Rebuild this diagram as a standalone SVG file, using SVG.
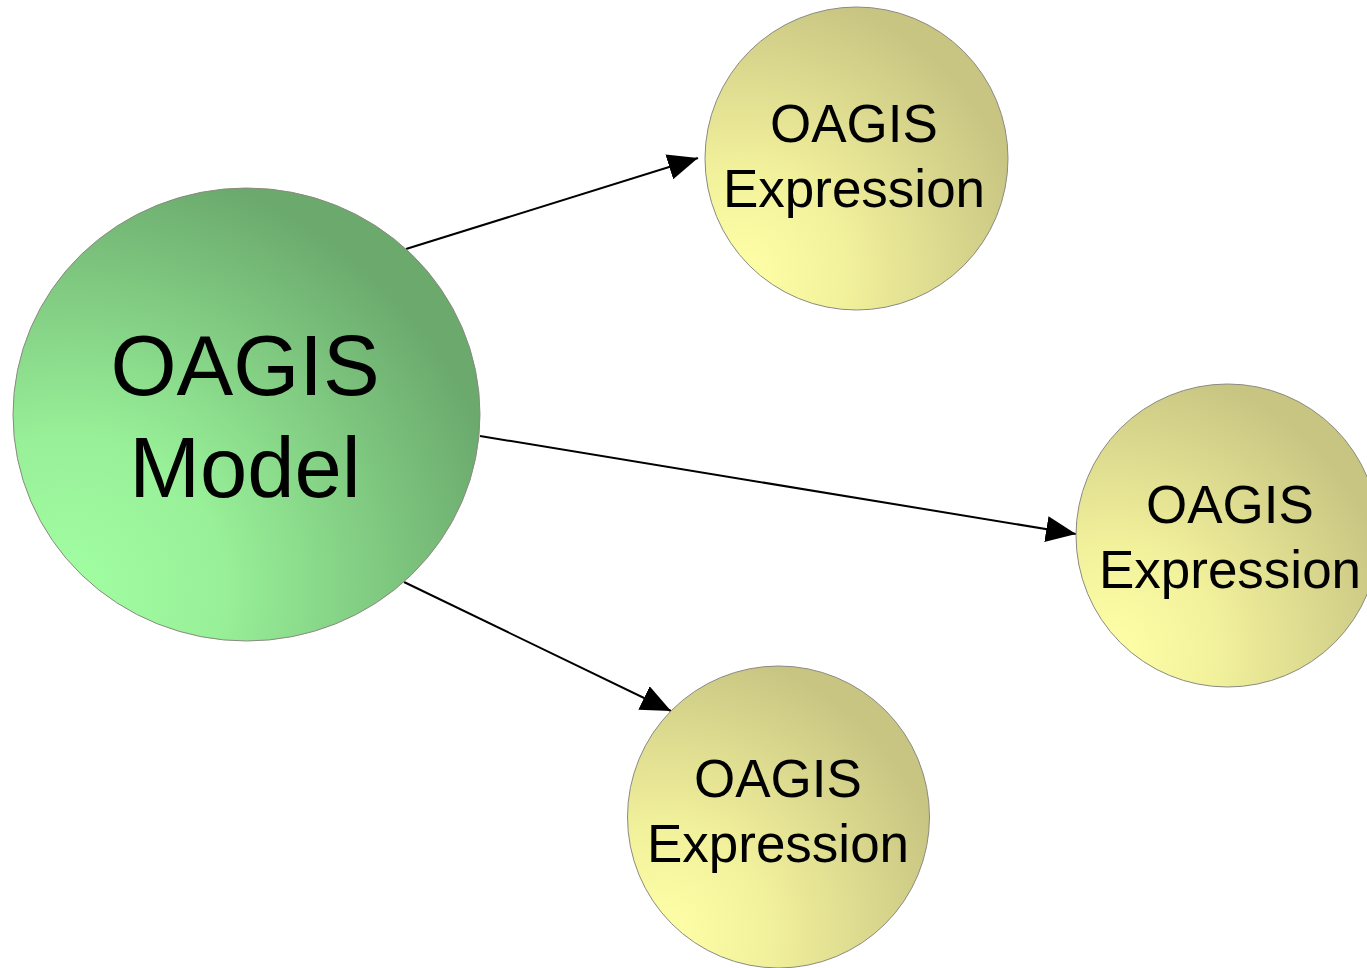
<svg xmlns="http://www.w3.org/2000/svg" width="1367" height="968" viewBox="0 0 1367 968">
  <defs>
    <radialGradient id="gGreen" cx="0.12" cy="0.88" r="0.95" fx="0.12" fy="0.88">
      <stop offset="0" stop-color="#A2FFA2"/>
      <stop offset="0.35" stop-color="#98F098"/>
      <stop offset="1" stop-color="#6BA96D"/>
    </radialGradient>
    <radialGradient id="gYellow" cx="0.12" cy="0.88" r="0.95" fx="0.12" fy="0.88">
      <stop offset="0" stop-color="#FFFFA8"/>
      <stop offset="0.35" stop-color="#F3F29C"/>
      <stop offset="1" stop-color="#C8C583"/>
    </radialGradient>
    <marker id="arrow" markerUnits="userSpaceOnUse" markerWidth="32" markerHeight="28" refX="30" refY="13" orient="auto">
      <path d="M0,0 L30,13 L0,26 Z" fill="#000"/>
    </marker>
  </defs>
  <style>
    .node { stroke: #8A8A80; stroke-width: 1; }
    .lbl { font-family: "Liberation Sans", Arial, sans-serif; fill: #000; text-anchor: middle; }
    .big { font-size: 85px; }
    .small { font-size: 53px; }
    .conn { stroke: #000; stroke-width: 2; fill: none; marker-end: url(#arrow); }
  </style>
  <rect width="1367" height="968" fill="#fff"/>
  <g id="connectors">
    <line class="conn" x1="406" y1="249" x2="698" y2="158"/>
    <line class="conn" x1="480" y1="436" x2="1076" y2="534"/>
    <line class="conn" x1="404" y1="582" x2="671" y2="711"/>
  </g>
  <g id="model">
    <ellipse class="node" cx="246.5" cy="414.5" rx="233.5" ry="226.5" fill="url(#gGreen)"/>
    <text class="lbl big" x="245" y="395">OAGIS</text>
    <text class="lbl big" x="245" y="497">Model</text>
  </g>
  <g id="expr-top">
    <circle class="node" cx="856.5" cy="158.5" r="151.5" fill="url(#gYellow)"/>
    <text class="lbl small" x="854" y="142">OAGIS</text>
    <text class="lbl small" x="854" y="207">Expression</text>
  </g>
  <g id="expr-right">
    <circle class="node" cx="1227.5" cy="535.5" r="151.5" fill="url(#gYellow)"/>
    <text class="lbl small" x="1230" y="523">OAGIS</text>
    <text class="lbl small" x="1230" y="588">Expression</text>
  </g>
  <g id="expr-bottom">
    <circle class="node" cx="778.5" cy="817" r="151" fill="url(#gYellow)"/>
    <text class="lbl small" x="778" y="797">OAGIS</text>
    <text class="lbl small" x="778" y="862">Expression</text>
  </g>
</svg>
